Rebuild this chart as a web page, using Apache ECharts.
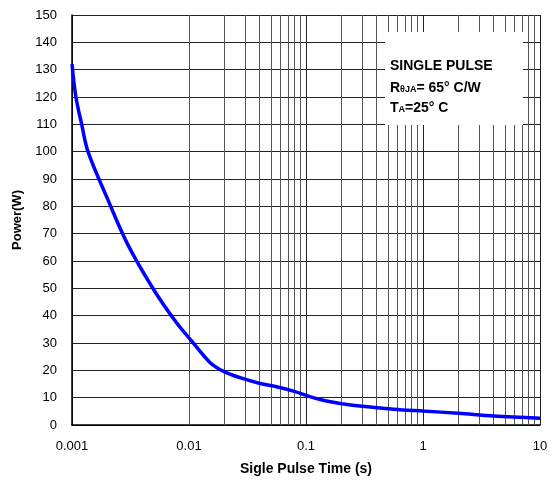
<!DOCTYPE html>
<html>
<head>
<meta charset="utf-8">
<script src="https://cdn.jsdelivr.net/npm/echarts@6/dist/echarts.min.js"></script>
<style>html,body{margin:0;padding:0;background:#fff;}#c{width:553px;height:481px;}</style>
</head>
<body>
<div id="c"></div>
<script>
var times = [0.001, 0.00108, 0.00121, 0.00137, 0.002, 0.003, 0.005, 0.0078, 0.0106, 0.0151, 0.0196, 0.0273, 0.0405, 0.056, 0.078, 0.108, 0.15, 0.25, 0.56, 1, 2, 4, 10];
var power = [132, 120, 110, 100, 83, 66, 49.5, 37.5, 30.6, 22.9, 19.7, 17.3, 15.2, 14, 12.4, 10.4, 8.8, 7.2, 5.8, 5.1, 4.3, 3.3, 2.5];
var xTickLabels = ['0.001', '0.01', '0.1', '1', '10'];
var minorGrid = [];
[0.001, 0.01, 0.1, 1].forEach(function (d) {
  for (var k = 2; k <= 9; k++) minorGrid.push(+(d * k).toPrecision(3));
});

var chart = echarts.init(document.getElementById('c'));
var FONT = 'Liberation Sans, Arial, sans-serif';
var rich = {
  b: { font: 'bold 14px ' + FONT, verticalAlign: 'bottom' },
  s: { font: 'bold 9px ' + FONT, verticalAlign: 'bottom', padding: [0, 0, 1, 0] }
};
chart.setOption({
  animation: false,
  backgroundColor: '#fff',
  grid: { left: 72, right: 13, top: 15, bottom: 55 },
  xAxis: {
    type: 'log', logBase: 10, min: 0.001, max: 10,
    name: 'Sigle Pulse Time (s)', nameLocation: 'middle', nameGap: 37,
    nameTextStyle: { fontFamily: FONT, fontWeight: 'bold', fontSize: 14, color: '#000' },
    axisLine: { lineStyle: { color: '#000', width: 1.5 } },
    axisTick: { show: false },
    axisLabel: { fontFamily: FONT, fontSize: 13, color: '#000', margin: 15,
      formatter: function (v) { var s = xTickLabels.filter(function (t) { return Math.abs(+t - v) / v < 1e-6; }); return s.length ? s[0] : ''; } },
    splitLine: { show: true, lineStyle: { color: '#222', width: 1 } }
  },
  yAxis: {
    type: 'value', min: 0, max: 150, interval: 10,
    name: 'Power(W)', nameLocation: 'middle', nameGap: 46,
    nameTextStyle: { fontFamily: FONT, fontWeight: 'bold', fontSize: 13, color: '#000' },
    axisLine: { show: true, lineStyle: { color: '#000', width: 1.5 } },
    axisTick: { show: false },
    axisLabel: { fontFamily: FONT, fontSize: 13, color: '#000', margin: 15 },
    splitLine: { show: true, lineStyle: { color: '#222', width: 1 } }
  },
  series: [{
    type: 'line',
    data: times.map(function (t, i) { return [t, power[i]]; }),
    smooth: 0.35,
    symbol: 'none',
    lineStyle: { color: '#0000ff', width: 3.5 },
    z: 5,
    markLine: {
      silent: true, symbol: 'none', animation: false,
      label: { show: false },
      lineStyle: { color: '#555', width: 1, type: 'solid' },
      data: minorGrid.map(function (v) { return { xAxis: v }; })
    }
  }],
  graphic: [
    { type: 'rect', z: 100, shape: { x: 385, y: 32, width: 138, height: 93 }, style: { fill: '#fff' } },
    { type: 'text', z: 101, left: 390, top: 59, style: { text: 'SINGLE PULSE', font: 'bold 14px ' + FONT, fill: '#000' } },
    { type: 'text', z: 101, left: 390, top: 81, style: { text: '{b|R}{s|θJA}{b|= 65° C/W}', fill: '#000', rich: rich } },
    { type: 'text', z: 101, left: 390, top: 101, style: { text: '{b|T}{s|A}{b|=25° C}', fill: '#000', rich: rich } }
  ]
});
</script>
</body>
</html>
